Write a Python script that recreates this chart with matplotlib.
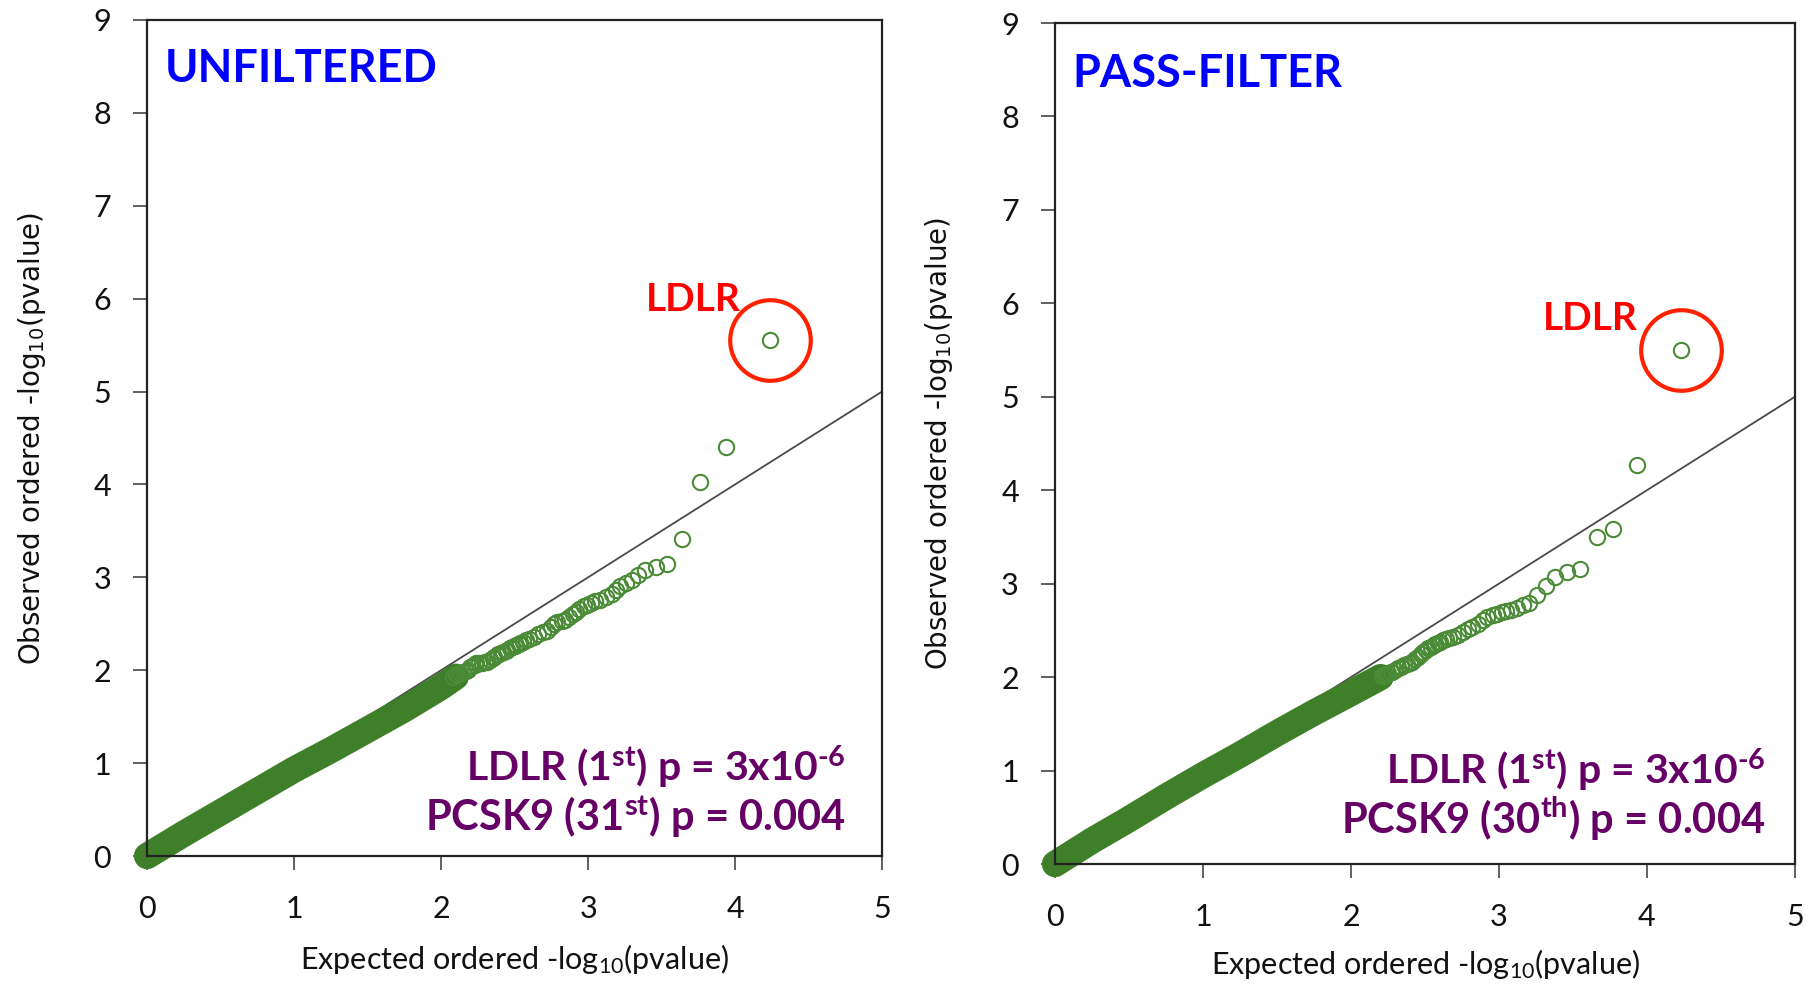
import matplotlib
matplotlib.use('Agg')
import matplotlib.pyplot as plt

plt.rcParams['font.family'] = ['Lato', 'DejaVu Sans']
plt.rcParams['mathtext.default'] = 'regular'

# axis ticks
x_ticks = [0, 1, 2, 3, 4, 5]
y_ticks = [0, 1, 2, 3, 4, 5, 6, 7, 8, 9]

# expected vs observed -log10(p), unfiltered gene set
# dense lower part of the curve
unf_band_x = [0.0, 0.25, 0.5, 0.75, 1.0, 1.25, 1.5, 1.75, 2.0, 2.1]
unf_band_y = [0.0, 0.24, 0.47, 0.70, 0.93, 1.14, 1.36, 1.58, 1.82, 1.93]
# individual genes in the tail (top ranked first)
unf_x = [4.24, 3.94, 3.76, 3.64, 3.54, 3.46, 3.39, 3.34, 3.30, 3.26,
         3.22, 3.19, 3.16, 3.12, 3.08, 3.05, 3.02, 2.99, 2.97, 2.94,
         2.92, 2.90, 2.87, 2.84, 2.82, 2.79, 2.77, 2.75, 2.72, 2.69,
         2.66, 2.63, 2.60, 2.58, 2.56, 2.54, 2.53, 2.51, 2.50, 2.48,
         2.47, 2.45, 2.44, 2.42, 2.41, 2.39, 2.38, 2.36, 2.35, 2.33,
         2.31, 2.30, 2.28, 2.26, 2.24, 2.23, 2.21, 2.20, 2.18, 2.17,
         2.15, 2.13, 2.11, 2.10, 2.08]
unf_y = [5.55, 4.40, 4.03, 3.41, 3.14, 3.11, 3.08, 3.02, 2.97, 2.94,
         2.91, 2.86, 2.82, 2.79, 2.76, 2.74, 2.72, 2.70, 2.69, 2.66,
         2.63, 2.60, 2.57, 2.54, 2.53, 2.52, 2.50, 2.46, 2.42, 2.41,
         2.39, 2.36, 2.34, 2.32, 2.30, 2.29, 2.28, 2.27, 2.26, 2.25,
         2.24, 2.22, 2.21, 2.20, 2.19, 2.17, 2.16, 2.14, 2.13, 2.11,
         2.09, 2.09, 2.08, 2.08, 2.08, 2.06, 2.05, 2.03, 2.00, 1.99,
         1.98, 1.97, 1.96, 1.95, 1.93]

# pass-filter gene set
pf_band_x = [0.0, 0.25, 0.5, 0.75, 1.0, 1.25, 1.5, 1.75, 2.0, 2.2]
pf_band_y = [0.0, 0.25, 0.48, 0.72, 0.95, 1.17, 1.40, 1.62, 1.83, 2.00]
pf_x = [4.23, 3.93, 3.77, 3.66, 3.55, 3.46, 3.38, 3.32, 3.26, 3.20,
        3.16, 3.12, 3.08, 3.05, 3.02, 2.99, 2.96, 2.92, 2.89, 2.86,
        2.82, 2.79, 2.76, 2.72, 2.69, 2.66, 2.64, 2.62, 2.60, 2.59,
        2.57, 2.56, 2.54, 2.52, 2.51, 2.49, 2.47, 2.45, 2.43, 2.41,
        2.40, 2.38, 2.36, 2.34, 2.32, 2.30, 2.28, 2.27, 2.25, 2.24,
        2.22, 2.21]
pf_y = [5.50, 4.27, 3.58, 3.50, 3.16, 3.13, 3.07, 2.97, 2.88, 2.79,
        2.77, 2.74, 2.72, 2.71, 2.70, 2.68, 2.66, 2.64, 2.61, 2.57,
        2.54, 2.51, 2.48, 2.45, 2.43, 2.42, 2.41, 2.40, 2.38, 2.37,
        2.35, 2.34, 2.32, 2.31, 2.29, 2.27, 2.25, 2.22, 2.19, 2.16,
        2.15, 2.14, 2.13, 2.11, 2.10, 2.08, 2.06, 2.05, 2.04, 2.03,
        2.02, 2.01]

# null line
diag = [0, 5]

GREEN = '#3f7f2a'
PURPLE = '#660066'


def draw_qq(ax, band_x, band_y, tail_x, tail_y, title, rank_text, note_pos, ldlr_pos,
            title_y, xlab_y):
    ax.plot(diag, diag, color='#4a4a4a', lw=1.3, zorder=1)
    ax.plot(band_x, band_y, color=GREEN, lw=19, solid_capstyle='round', zorder=2, clip_on=False)
    ax.plot(tail_x, tail_y, 'o', ms=11, mfc='none', mec='#4b8a36', mew=1.5, zorder=3, clip_on=False)
    # circle around the top hit
    ax.plot(tail_x[0], tail_y[0], 'o', ms=58, mfc='none', mec='#ff2200', mew=3, zorder=4)
    ax.text(ldlr_pos[0], ldlr_pos[1], 'LDLR', color='#ff0000', fontsize=28,
            fontweight='bold', ha='left', va='baseline')

    ax.text(0.12, title_y, title, color='#0000ff', fontsize=32.5, fontweight='bold',
            ha='left', va='baseline')

    ax.text(note_pos[0], note_pos[1], 'LDLR (1$^{st}$) p = 3x10$^{‐6}$', color=PURPLE,
            fontsize=29.5, fontweight='bold', ha='right', va='baseline')
    ax.text(note_pos[0], note_pos[2], rank_text, color=PURPLE,
            fontsize=30, fontweight='bold', ha='right', va='baseline')

    ax.set_xlim(0, 5)
    ax.set_ylim(0, 9)
    ax.set_xticks(x_ticks)
    ax.set_yticks(y_ticks)
    ax.tick_params(axis='both', direction='out', length=10, width=1.2, color='#444444',
                   labelsize=22, labelcolor='#111111')
    ax.tick_params(axis='x', pad=18)
    ax.tick_params(axis='y', pad=16)
    for s in ax.spines.values():
        s.set_linewidth(1.6)
        s.set_color('#222222')

    ax.set_xlabel('Expected ordered -log$_{10}$(pvalue)', fontsize=22, color='#111111')
    ax.xaxis.set_label_coords(0.5, xlab_y)
    ax.set_ylabel('Observed ordered -log$_{10}$(pvalue)', fontsize=20, color='#111111',
                  family='DejaVu Sans')
    ax.yaxis.set_label_coords(-0.135, 0.5)


fig = plt.figure(figsize=(18.18, 9.88), dpi=100)
ax1 = fig.add_axes([0.0809, 0.1336, 0.4043, 0.8462])
ax2 = fig.add_axes([0.5803, 0.1255, 0.4070, 0.8512])

draw_qq(ax1, unf_band_x, unf_band_y, unf_x, unf_y, 'UNFILTERED',
        'PCSK9 (31$^{st}$) p = 0.004', (4.75, 0.80, 0.27), (3.39, 5.87), 8.33, -0.103)
draw_qq(ax2, pf_band_x, pf_band_y, pf_x, pf_y, 'PASS-FILTER',
        'PCSK9 (30$^{th}$) p = 0.004', (4.80, 0.85, 0.32), (3.30, 5.71), 8.31, -0.099)

fig.savefig('out.png', dpi=100)
